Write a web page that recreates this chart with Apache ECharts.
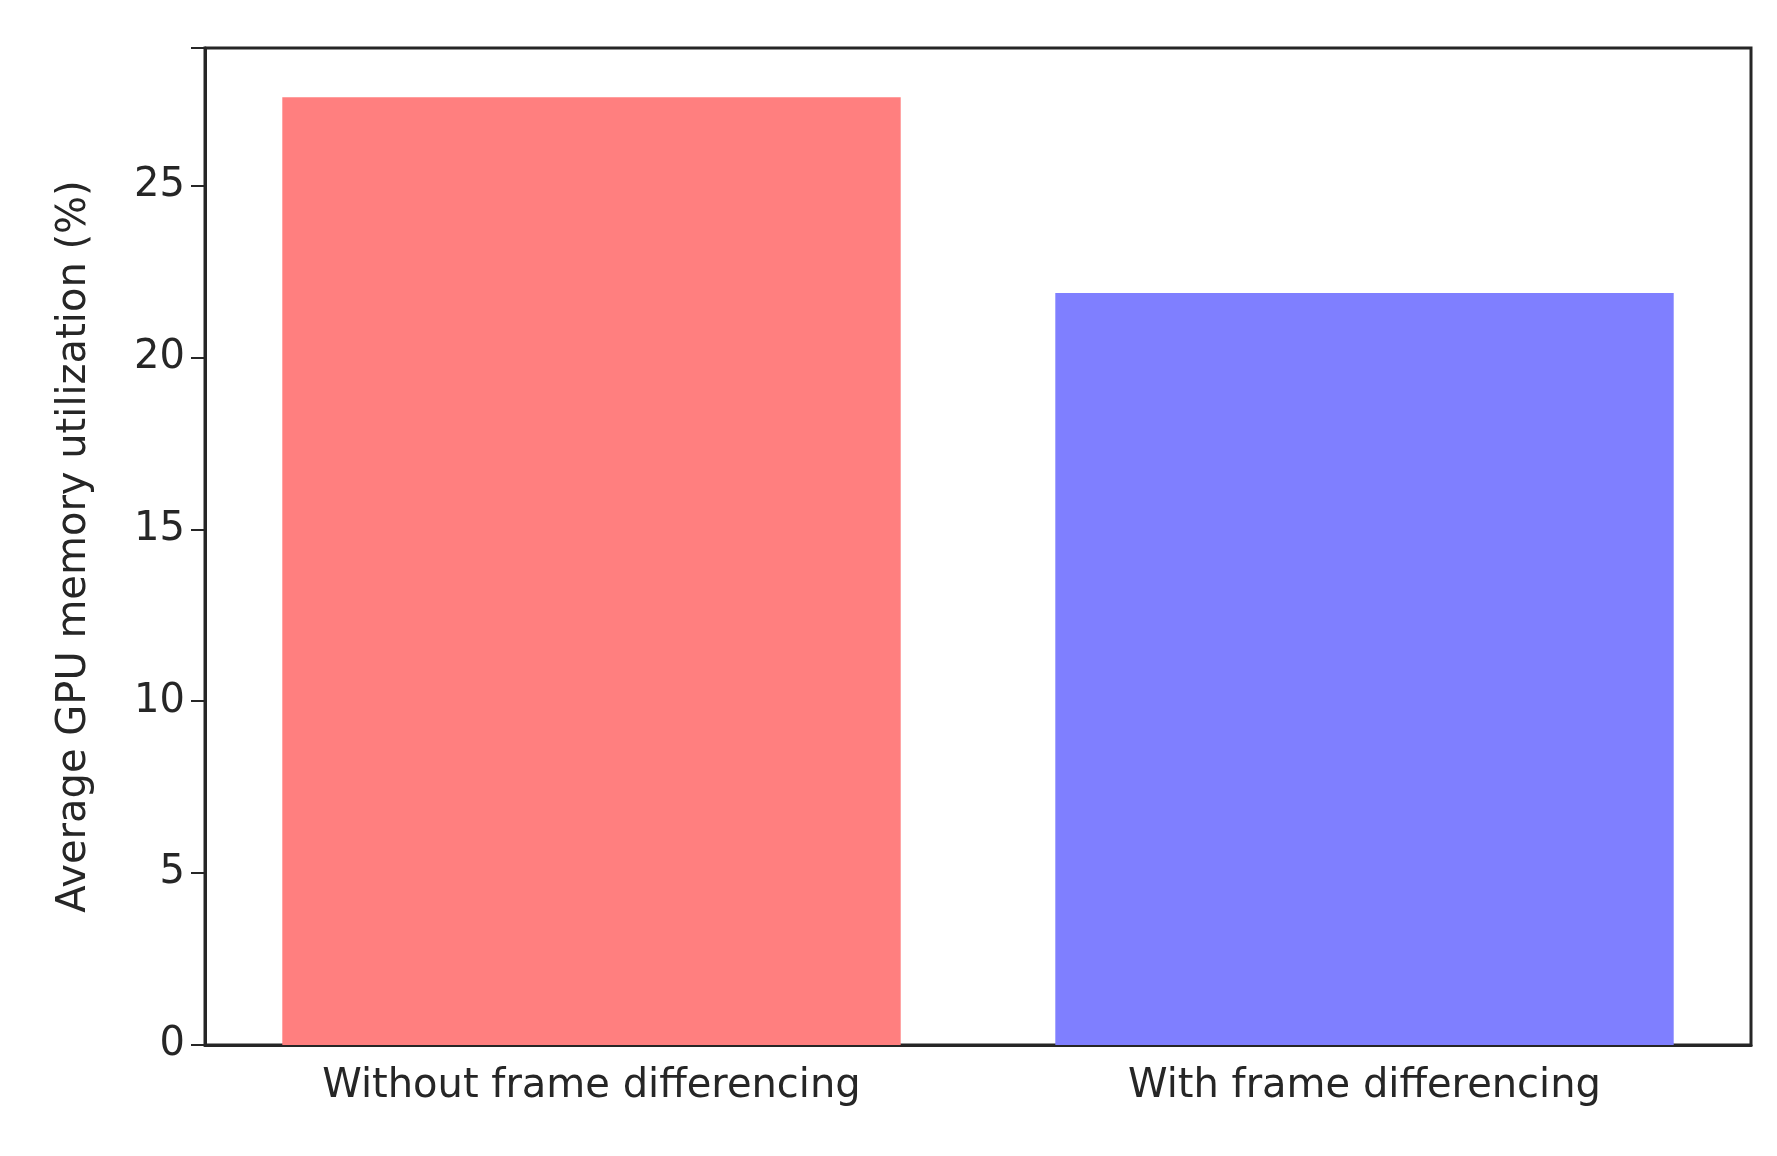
<!DOCTYPE html>
<html>
<head>
<meta charset="utf-8">
<script src="https://cdn.jsdelivr.net/npm/echarts@6/dist/echarts.min.js"></script>
<style>
html, body { margin: 0; padding: 0; background: #fff; }
#chart { width: 1777px; height: 1156px; }
</style>
</head>
<body>
<div id="chart"></div>
<script>
var categories = ['Without frame differencing', 'With frame differencing'];
var values = [27.57, 21.87];
var barColors = ['#ff7f7f', '#7f7fff'];
var yTicks = [0, 5, 10, 15, 20, 25];

var chart = echarts.init(document.getElementById('chart'));
var font = 'DejaVu Sans';
chart.setOption({
	animation: false,
	grid: { left: 205, right: 26, top: 48, bottom: 111 },
	xAxis: {
		type: 'category',
		data: categories,
		axisLine: { lineStyle: { color: '#262626', width: 3 } },
		axisTick: { alignWithLabel: true, length: 14, lineStyle: { color: '#262626', width: 2 } },
		axisLabel: { fontFamily: font, fontSize: 40, color: '#262626', margin: 22 }
	},
	yAxis: {
		type: 'value',
		min: 0,
		max: 29,
		interval: 5,
		name: 'Average GPU memory utilization (%)',
		nameLocation: 'middle',
		nameGap: 110,
		nameTextStyle: { fontFamily: font, fontSize: 40, color: '#262626' },
		axisLine: { show: true, lineStyle: { color: '#262626', width: 3 } },
		axisTick: { show: true, length: 14, lineStyle: { color: '#262626', width: 2 } },
		axisLabel: {
			fontFamily: font, fontSize: 40, color: '#262626', margin: 20,
			formatter: function(v) { return yTicks.indexOf(v) >= 0 ? String(v) : ''; }
		},
		splitLine: { show: false }
	},
	series: [{
		type: 'bar',
		barCategoryGap: '20%',
		data: values.map(function(v, i) { return { value: v, itemStyle: { color: barColors[i] } }; })
	}],
	graphic: [{
		type: 'rect',
		shape: { x: 205, y: 48, width: 1777 - 205 - 26, height: 1156 - 48 - 111 },
		style: { fill: 'none', stroke: '#262626', lineWidth: 3 },
		silent: true
	}]
});
</script>
</body>
</html>
